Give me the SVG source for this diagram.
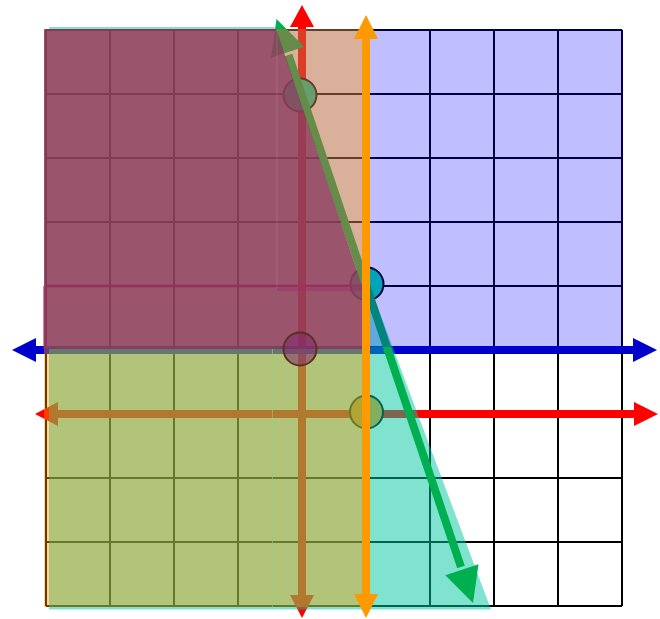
<svg xmlns="http://www.w3.org/2000/svg" width="660" height="619" viewBox="0 0 660 619">
<style>
.grid{fill:none;stroke:#000;stroke-width:2}
.red{stroke:#ff0000;stroke-width:8;fill:none}
.redh{fill:#ff0000}
.blue{stroke:#0000cc;stroke-width:8;fill:none}
.blueh{fill:#0000cc}
.green{stroke:#00b050;stroke-width:8;fill:none}
.greenh{fill:#00b050}
.orange{stroke:#ff9900;stroke-width:8;fill:none}
.orangeh{fill:#ff9900}
.pt{stroke:#000;stroke-width:2}
.teal{fill:#00c8a0;fill-opacity:0.5}
</style>
<rect width="660" height="619" fill="#fff"/>
<g id="grid">
<path class="grid" d="M46,30V606M110,30V606M174,30V606M238,30V606M302,30V606M366,30V606M430,30V606M494,30V606M558,30V606M622,30V606M46,30H622M46,94H622M46,158H622M46,222H622M46,286H622M46,350H622M46,414H622M46,478H622M46,542H622M46,606H622"/>
</g>
<g id="connectors">
<g id="red-lines">
<path class="red" d="M302,26V596M57,414H635"/>
<polygon class="redh" points="302,5 290,27 314,27"/>
<polygon class="redh" points="302,618 290,595 314,595"/>
<polygon class="redh" points="35,414 58,402 58,426"/>
<polygon class="redh" points="658,414 634,402 634,426"/>
</g>
<g id="blue-line">
<path class="blue" d="M35,350H634"/>
<polygon class="blueh" points="12,350 36,338 36,362"/>
<polygon class="blueh" points="657,350 633,338 633,362"/>
</g>
</g>
<g id="points-base">
<circle id="pA" class="pt" cx="300" cy="95" r="16.5" fill="#00daa0"/>
<circle id="pB" class="pt" cx="367" cy="284" r="16.5" fill="#00daa0"/>
<circle id="pD" class="pt" cx="366.5" cy="412" r="16.5" fill="#ff9620"/>
</g>
<g id="teal-region">
<polygon class="teal" points="366,276 491,609.5 49,609.5 49,607 366,607"/>
<polygon class="teal" points="49,27 274.5,27 275.5,29 49,29"/>
</g>
<g id="green-connector">
<path class="green" d="M288.5,55 L461,567"/>
<polygon class="greenh" points="276.5,19 304.2,46.7 271,57.7"/>
<polygon class="greenh" points="473,603 478.5,564.3 445.3,575.3"/>
</g>
<g id="regions">
<rect id="blue-region" x="366" y="29" width="257" height="318" fill="#0000ff" fill-opacity="0.25"/>
<polygon id="peach" fill="#b96f45" fill-opacity="0.55" points="276.3,29 366,29 366,288 362.7,288"/>
<polygon id="mauve" fill="#8f435c" fill-opacity="0.9" points="44,29 276.3,29 362.7,288 366,288 366,349 44,349"/>
<rect id="olive" x="49" y="349" width="317" height="258" fill="#92ab40" fill-opacity="0.7"/>
<rect id="orange-strip" x="44" y="349" width="5" height="258" fill="#ff9900" fill-opacity="0.4"/>
<path d="M44,286H366M44.5,286V349" fill="none" stroke="#a0286a" stroke-opacity="0.55" stroke-width="3"/>
<path d="M277,289.5H366" fill="none" stroke="#a0286a" stroke-opacity="0.4" stroke-width="3"/>
<path d="M277,30V288" fill="none" stroke="#ffffff" stroke-opacity="0.12" stroke-width="1"/>
<path d="M272.5,349V609" fill="none" stroke="#8ad08a" stroke-opacity="0.6" stroke-width="1"/>
</g>
<g id="pC">
<circle cx="300" cy="349" r="16.5" fill="#80286e" fill-opacity="0.55" stroke="#5a3020" stroke-width="2"/>
</g>
<g id="connectors-top">
<path class="orange" d="M366,38V595"/>
<polygon class="orangeh" points="366,15 354,39 378,39"/>
<polygon class="orangeh" points="366,618 354,594 378,594"/>
</g>
</svg>
